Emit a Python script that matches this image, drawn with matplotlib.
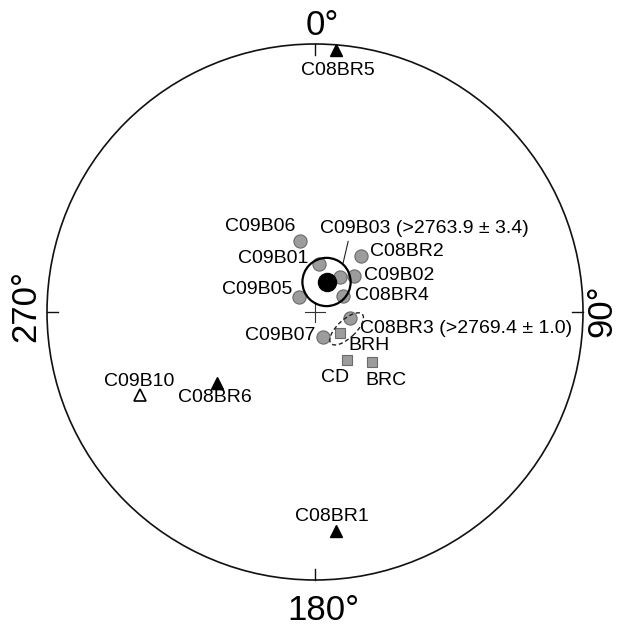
import matplotlib
matplotlib.use("Agg")
import matplotlib.pyplot as plt
from matplotlib.patches import Circle, Ellipse

plt.rcParams['font.family'] = ['Liberation Sans', 'DejaVu Sans']

# ---- data (projected coordinates on unit equal-area net) ----
site_names = ["C09B06", "C09B01", "C09B03", "C09B02", "C08BR2",
              "C08BR4", "C09B05", "C08BR3", "C09B07"]
site_x = [-0.056, 0.016, 0.093, 0.146, 0.171, 0.106, -0.060, 0.132, 0.030]
site_y = [0.266, 0.179, 0.132, 0.135, 0.209, 0.060, 0.055, -0.024, -0.095]

square_names = ["BRH", "CD", "BRC"]
square_x = [0.093, 0.118, 0.212]
square_y = [-0.079, -0.179, -0.188]

tri_names = ["C08BR5", "C08BR1", "C08BR6"]
tri_x = [0.078, 0.078, -0.367]
tri_y = [0.976, -0.817, -0.264]

open_tri_names = ["C09B10"]
open_tri_x = [-0.653]
open_tri_y = [-0.310]

mean_x, mean_y, mean_a95 = 0.043, 0.112, 0.090
ell_x, ell_y, ell_w, ell_h, ell_ang = 0.118, -0.063, 0.160, 0.068, 43

dir_labels = ["0°", "90°", "180°", "270°"]
label_C09B03 = "C09B03 (>2763.9 ± 3.4)"
label_C08BR3 = "C08BR3 (>2769.4 ± 1.0)"

# ---- layout ----
W, H = 619, 626
cx, cy, R = 315, 312, 268
fig = plt.figure(figsize=(W / 100, H / 100), dpi=100)
ax = fig.add_axes([0, 0, 1, 1])
ax.set_xlim(-cx / R, (W - cx) / R)
ax.set_ylim((cy - H) / R, cy / R)
ax.set_aspect('equal')
ax.axis('off')

ax.add_patch(Circle((0, 0), 1.0, fill=False, lw=1.2, color='#111111'))
tl = 0.042
ax.plot([0, 0], [1, 1 - tl], color='#111111', lw=1.0)
ax.plot([0, 0], [-1, -1 + tl], color='#111111', lw=1.0)
ax.plot([1, 1 - tl], [0, 0], color='#111111', lw=1.0)
ax.plot([-1, -1 + tl], [0, 0], color='#111111', lw=1.0)
cr = 0.038
ax.plot([-cr, cr], [0, 0], color='#333333', lw=0.8)
ax.plot([0, 0], [-cr, cr], color='#333333', lw=0.8)

fs_big = 25
ax.text(-9 / R, (cy - 35) / R, dir_labels[0], fontsize=fs_big, ha='left', va='baseline')
ax.text(-28 / R, (cy - 620) / R, dir_labels[2], fontsize=fs_big, ha='left', va='baseline')
ax.text((35 - cx) / R, (cy - 342) / R, dir_labels[3], fontsize=fs_big, ha='left', va='baseline',
        rotation=90, rotation_mode='anchor')
ax.text((611 - cx) / R, (cy - 337) / R, dir_labels[1], fontsize=fs_big, ha='left', va='baseline',
        rotation=90, rotation_mode='anchor')

gray = '#9c9c9c'
edge = '#6a6a6a'
ax.plot(site_x, site_y, 'o', ms=9.5, mfc=gray, mec=edge, mew=0.8, zorder=3)
ax.plot(square_x, square_y, 's', ms=7.5, mfc=gray, mec=edge, mew=0.8, zorder=3)
ax.plot(tri_x, tri_y, '^', ms=9, color='black', zorder=3)
ax.plot(open_tri_x, open_tri_y, '^', ms=9, mfc='white', mec='black', mew=1.2, zorder=3)
ax.plot([mean_x], [mean_y], 'o', ms=13, color='black', zorder=4)
ax.add_patch(Circle((mean_x, mean_y), mean_a95, fill=False, lw=1.6, color='black', zorder=4))
ax.add_patch(Ellipse((ell_x, ell_y), ell_w, ell_h, angle=ell_ang, fill=False, lw=1.0,
                     ls=(0, (3, 2)), color='#222222', zorder=4))

fs = 14
site_off = {
    "C09B06": (-5, 14, 'right'), "C09B01": (-11, 6, 'right'), "C09B03": None,
    "C09B02": (10, 0, 'left'), "C08BR2": (9, 4, 'left'), "C08BR4": (12, 0, 'left'),
    "C09B05": (-7, 8, 'right'), "C08BR3": None, "C09B07": (-8, 2, 'right'),
}
for n, x, y in zip(site_names, site_x, site_y):
    o = site_off[n]
    if o is None:
        continue
    ax.annotate(n, (x, y), xytext=(o[0], o[1]), textcoords='offset pixels',
                ha=o[2], va='center', fontsize=fs)

i3 = site_names.index("C09B03")
ax.annotate(label_C09B03, (site_x[i3], site_y[i3]), xytext=(-20, 48), textcoords='offset pixels',
            ha='left', va='center', fontsize=fs,
            arrowprops=dict(arrowstyle='-', lw=0.8, color='#222222', relpos=(0.14, 0.0),
                            shrinkA=1, shrinkB=10))
i8 = site_names.index("C08BR3")
ax.annotate(label_C08BR3, (site_x[i8], site_y[i8]), xytext=(10, -10), textcoords='offset pixels',
            ha='left', va='center', fontsize=fs)

sq_off = {"BRH": (8, -12, 'left'), "CD": (-12, -18, 'center'), "BRC": (14, -18, 'center')}
for n, x, y in zip(square_names, square_x, square_y):
    o = sq_off[n]
    ax.annotate(n, (x, y), xytext=(o[0], o[1]), textcoords='offset pixels',
                ha=o[2], va='center', fontsize=fs)

tri_off = {"C08BR5": (2, -20), "C08BR1": (-4, 14), "C08BR6": (-2, -15), "C09B10": (-1, 14)}
for n, x, y in zip(tri_names + open_tri_names, tri_x + open_tri_x, tri_y + open_tri_y):
    o = tri_off[n]
    ax.annotate(n, (x, y), xytext=o, textcoords='offset pixels',
                ha='center', va='center', fontsize=fs)

fig.savefig('out.png', dpi=100)
